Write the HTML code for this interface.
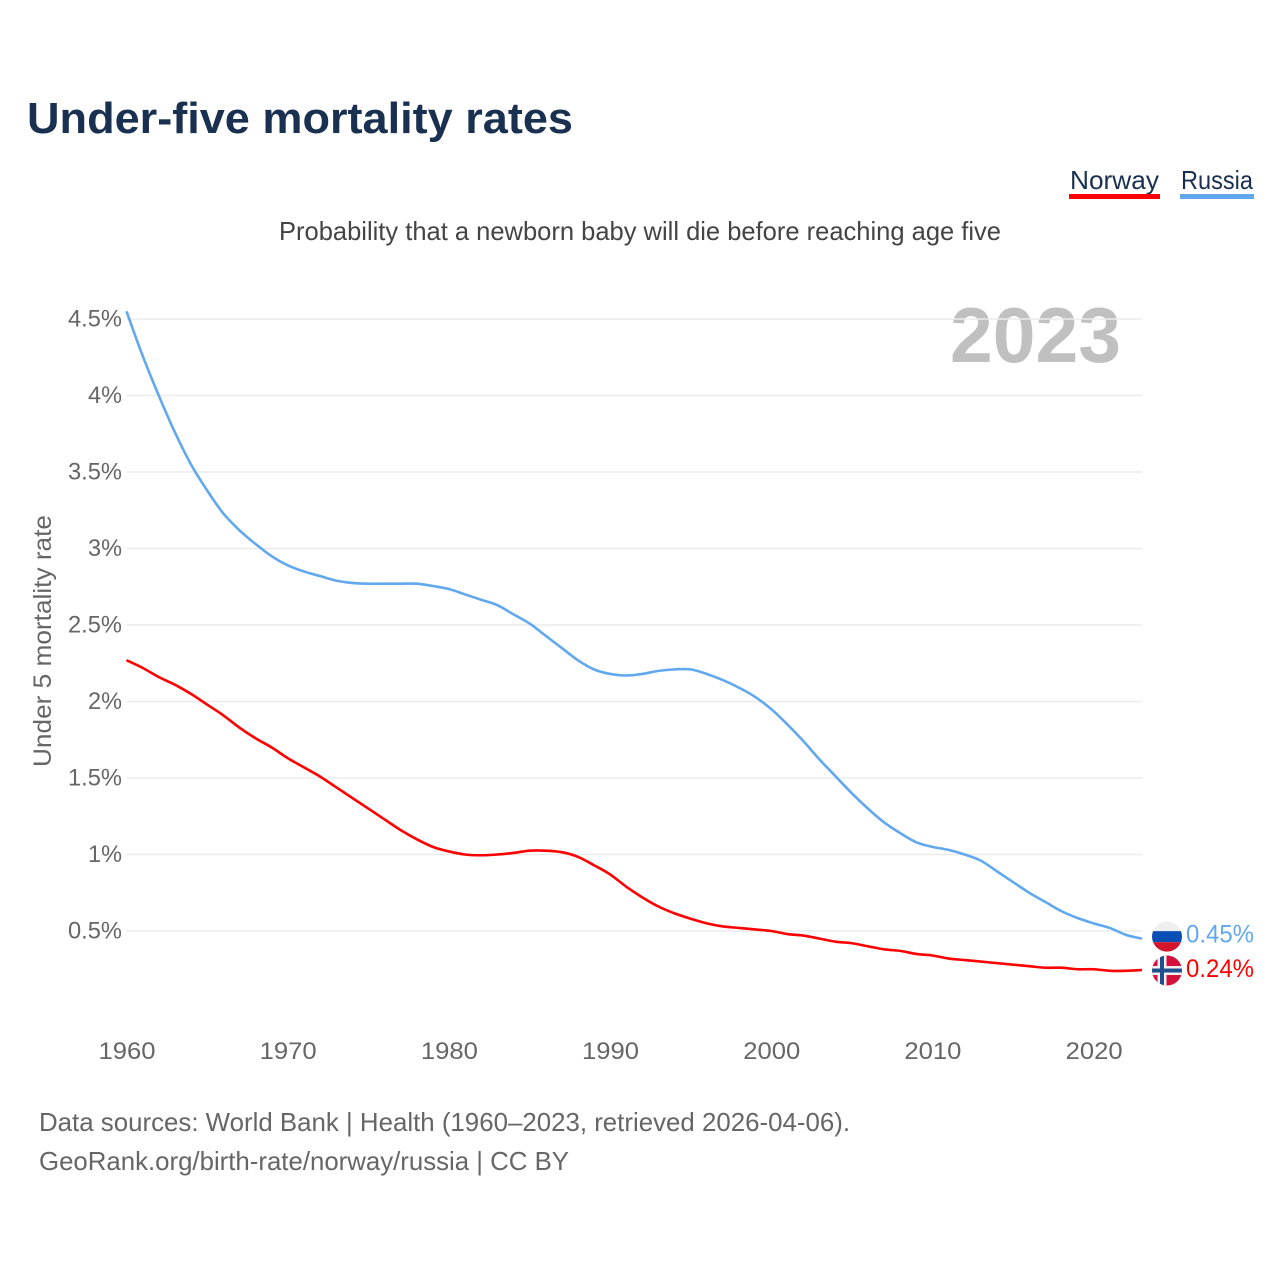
<!DOCTYPE html>
<html lang="en">
<head>
<meta charset="utf-8">
<title>Under-five mortality rates</title>
<style>
  html, body { margin: 0; padding: 0; background: #fff; }
  svg { display: block; font-family: "Liberation Sans", sans-serif; }
</style>
</head>
<body>
<svg id="chart" xmlns="http://www.w3.org/2000/svg" width="1280" height="1280" viewBox="0 0 1280 1280">
  <defs>
    <clipPath id="flag-clip"><circle cx="0" cy="0" r="15"></circle></clipPath>
  </defs>
  <rect x="0" y="0" width="1280" height="1280" fill="#ffffff"></rect>
  <text x="27" y="133" font-size="44" font-weight="bold" fill="#1a3050" textLength="546" lengthAdjust="spacingAndGlyphs">Under-five mortality rates</text>
  <text x="1070" y="189" font-size="26" fill="#1a3050" textLength="89" lengthAdjust="spacingAndGlyphs">Norway</text>
  <rect x="1069" y="194" width="91" height="5" fill="#ff0000"></rect>
  <text x="1181" y="189" font-size="26" fill="#1a3050" textLength="72" lengthAdjust="spacingAndGlyphs">Russia</text>
  <rect x="1180" y="194" width="74" height="5" fill="#62a8ee"></rect>
  <text x="279" y="240" font-size="26" fill="#444444" textLength="722" lengthAdjust="spacingAndGlyphs">Probability that a newborn baby will die before reaching age five</text>
  <text x="950" y="362" font-size="78" font-weight="bold" fill="#c0c0c0" textLength="171" lengthAdjust="spacingAndGlyphs">2023</text>
  <text transform="translate(51,767) rotate(-90)" x="0" y="0" font-size="25" fill="#666666" textLength="252" lengthAdjust="spacingAndGlyphs">Under 5 mortality rate</text>
  <g id="grid"></g>
  <g id="yticks"></g>
  <g id="xticks"></g>
  <g id="series"></g>
  <g id="flag-russia" clip-path="url(#flag-clip)">
    <rect x="-15" y="-15" width="30" height="10" fill="#efefef"></rect>
    <rect x="-15" y="-5.5" width="30" height="11" fill="#0a4fb4"></rect>
    <rect x="-15" y="5.5" width="30" height="10" fill="#d5152e"></rect>
  </g>
  <g id="flag-norway" clip-path="url(#flag-clip)">
    <rect x="-15" y="-15" width="30" height="30" fill="#d5103a"></rect>
    <rect x="-9.5" y="-15" width="9" height="30" fill="#f2f2f2"></rect>
    <rect x="-15" y="-4.5" width="30" height="9" fill="#f2f2f2"></rect>
    <rect x="-7" y="-15" width="4" height="30" fill="#1f4f8c"></rect>
    <rect x="-15" y="-2" width="30" height="4" fill="#1f4f8c"></rect>
  </g>
  <text id="value-russia" x="1186" font-size="25" fill="#62a8ee" textLength="68" lengthAdjust="spacingAndGlyphs"></text>
  <text id="value-norway" x="1186" font-size="25" fill="#ff0000" textLength="68" lengthAdjust="spacingAndGlyphs"></text>
  <text x="39" y="1131" font-size="26" fill="#666666" textLength="811" lengthAdjust="spacingAndGlyphs">Data sources: World Bank | Health (1960–2023, retrieved 2026-04-06).</text>
  <text x="39" y="1170" font-size="26" fill="#666666" textLength="530" lengthAdjust="spacingAndGlyphs">GeoRank.org/birth-rate/norway/russia | CC BY</text>
</svg>
<script>
const firstYear = 1960;
const xTickYears = [1960, 1970, 1980, 1990, 2000, 2010, 2020];
const xTickLabels = ["1960", "1970", "1980", "1990", "2000", "2010", "2020"];
const yTickValues = [0.5, 1, 1.5, 2, 2.5, 3, 3.5, 4, 4.5];
const yTickLabels = ["0.5%", "1%", "1.5%", "2%", "2.5%", "3%", "3.5%", "4%", "4.5%"];
const russiaValues = [4.55, 4.26, 4.00, 3.76, 3.55, 3.38, 3.23, 3.12, 3.03, 2.95, 2.89, 2.85, 2.82, 2.79, 2.775, 2.77, 2.77, 2.77, 2.77, 2.755, 2.735, 2.70, 2.665, 2.63, 2.57, 2.51, 2.43, 2.35, 2.27, 2.21, 2.18, 2.17, 2.18, 2.20, 2.21, 2.21, 2.18, 2.14, 2.09, 2.03, 1.95, 1.85, 1.74, 1.62, 1.51, 1.40, 1.30, 1.21, 1.14, 1.08, 1.05, 1.03, 1.00, 0.96, 0.89, 0.82, 0.75, 0.69, 0.63, 0.585, 0.55, 0.52, 0.475, 0.45];
const norwayValues = [2.27, 2.22, 2.16, 2.11, 2.05, 1.98, 1.91, 1.83, 1.76, 1.70, 1.63, 1.57, 1.51, 1.44, 1.37, 1.30, 1.23, 1.16, 1.10, 1.05, 1.02, 1.00, 0.995, 1.00, 1.01, 1.025, 1.025, 1.015, 0.985, 0.93, 0.87, 0.79, 0.72, 0.66, 0.615, 0.58, 0.55, 0.53, 0.52, 0.51, 0.50, 0.48, 0.47, 0.45, 0.43, 0.42, 0.40, 0.38, 0.37, 0.35, 0.34, 0.32, 0.31, 0.30, 0.29, 0.28, 0.27, 0.26, 0.26, 0.25, 0.25, 0.24, 0.24, 0.245];
const russiaLatestLabel = "0.45%";
const norwayLatestLabel = "0.24%";

const NS = "http://www.w3.org/2000/svg";
function xScale(year) { return 126.5 + (year - 1960) * (1142 - 126.5) / 63; }
function yScale(value) { return 931 - (value - 0.5) * 153; }
function make(tag, attrs, parent, text) {
  const el = document.createElementNS(NS, tag);
  for (const k in attrs) el.setAttribute(k, attrs[k]);
  if (text !== undefined) el.textContent = text;
  parent.appendChild(el);
  return el;
}

const grid = document.getElementById("grid");
const yticks = document.getElementById("yticks");
yTickValues.forEach(function (v, i) {
  const line = make("line", { x1: 126.5, x2: 1142, y1: yScale(v), y2: yScale(v), stroke: "#ebebeb", "stroke-width": 1.6 }, grid);
  
  
  const label = yTickLabels[i];
  const t = make("text", { x: 122, y: yScale(v) + 7.5, "text-anchor": "end", "font-size": 24, fill: "#666666", textLength: label.length > 2 ? 54 : 34, lengthAdjust: "spacingAndGlyphs" }, yticks, label);
  
  
});

const xticks = document.getElementById("xticks");
xTickYears.forEach(function (year, i) {
  const t = make("text", { x: xScale(year) + 0.5, y: 1059, "text-anchor": "middle", "font-size": 24, fill: "#666666", textLength: 57, lengthAdjust: "spacingAndGlyphs" }, xticks, xTickLabels[i]);
  
  
});

function linePath(values) {
  const pts = values.map(function (v, i) { return [xScale(firstYear + i), yScale(v)]; });
  let d = "M" + pts[0][0].toFixed(2) + "," + pts[0][1].toFixed(2);
  for (let i = 0; i < pts.length - 1; i++) {
    const p0 = pts[Math.max(i - 1, 0)];
    const p1 = pts[i];
    const p2 = pts[i + 1];
    const p3 = pts[Math.min(i + 2, pts.length - 1)];
    d += " C" + (p1[0] + (p2[0] - p0[0]) / 6).toFixed(2) + "," + (p1[1] + (p2[1] - p0[1]) / 6).toFixed(2) +
         " " + (p2[0] - (p3[0] - p1[0]) / 6).toFixed(2) + "," + (p2[1] - (p3[1] - p1[1]) / 6).toFixed(2) +
         " " + p2[0].toFixed(2) + "," + p2[1].toFixed(2);
  }
  return d;
}
const series = document.getElementById("series");
const russiaLine = make("path", { d: linePath(russiaValues), fill: "none", stroke: "#62a8ee", "stroke-width": 2.6, "stroke-linejoin": "round" }, series);


const norwayLine = make("path", { d: linePath(norwayValues), fill: "none", stroke: "#ff0000", "stroke-width": 2.6, "stroke-linejoin": "round" }, series);



const russiaEndY = yScale(russiaValues[russiaValues.length - 1]);
const norwayEndY = yScale(norwayValues[norwayValues.length - 1]);
document.getElementById("flag-russia").setAttribute("transform", "translate(1167," + (russiaEndY - 2) + ")");
document.getElementById("flag-norway").setAttribute("transform", "translate(1167," + (norwayEndY + 0.5) + ")");
const valueRussia = document.getElementById("value-russia");
valueRussia.setAttribute("y", russiaEndY + 4);
valueRussia.textContent = russiaLatestLabel;
const valueNorway = document.getElementById("value-norway");
valueNorway.setAttribute("y", norwayEndY + 7);
valueNorway.textContent = norwayLatestLabel;
</script>
</body>
</html>
